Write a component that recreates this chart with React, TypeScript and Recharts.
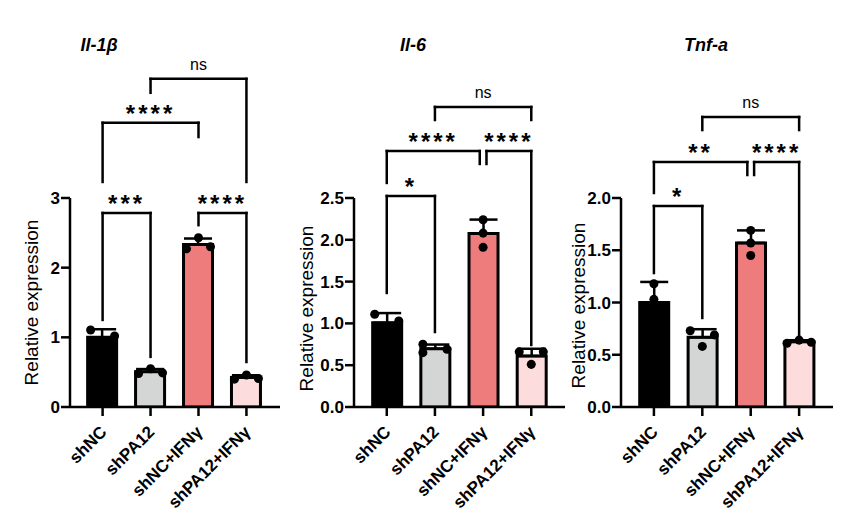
import {
  Bar,
  Cell,
  ComposedChart,
  ErrorBar,
  Label,
  ReferenceDot,
  ReferenceLine,
  Scatter,
  XAxis,
  YAxis,
} from "recharts";

const groups = ["shNC", "shPA12", "shNC+IFNγ", "shPA12+IFNγ"];
const groupColors = ["#000000", "#d4d5d5", "#ef7c7c", "#fcdcdc"];

// three replicates per group
const il1bReplicates = [
  [1.105, 1.02, 0.875],
  [0.55, 0.48, 0.49],
  [2.43, 2.27, 2.3],
  [0.46, 0.4, 0.41],
];
const il6Replicates = [
  [1.11, 1.03, 0.88],
  [0.75, 0.65, 0.69],
  [2.24, 2.08, 1.91],
  [0.66, 0.66, 0.51],
];
const tnfaReplicates = [
  [1.18, 1.03, 0.79],
  [0.73, 0.69, 0.58],
  [1.69, 1.57, 1.45],
  [0.61, 0.64, 0.62],
];

const il1bTicks = [0, 1, 2, 3];
const il6Ticks = [0, 0.5, 1, 1.5, 2, 2.5];
const tnfaTicks = [0, 0.5, 1, 1.5, 2];

type Bracket = {
  from: number;
  to: number;
  y: number;
  yFrom: number;
  yTo: number;
  label: string;
};

// significance brackets: group span, bar height, leg ends (data units)
const il1bBrackets: Bracket[] = [
  { from: 0, to: 1, y: 2.785, yFrom: 1.25, yTo: 0.72, label: "***" },
  { from: 0, to: 2, y: 4.08, yFrom: 3.23, yTo: 3.875, label: "****" },
  { from: 2, to: 3, y: 2.785, yFrom: 2.61, yTo: 0.646, label: "****" },
  { from: 1, to: 3, y: 4.71, yFrom: 4.51, yTo: 3.23, label: "ns" },
];
const il6Brackets: Bracket[] = [
  { from: 0, to: 1, y: 2.524, yFrom: 1.364, yTo: 0.897, label: "*" },
  { from: 0, to: 1.93, y: 3.062, yFrom: 2.68, yTo: 2.907, label: "****" },
  { from: 2.07, to: 3, y: 3.062, yFrom: 2.907, yTo: 0.742, label: "****" },
  { from: 1, to: 3, y: 3.589, yFrom: 3.433, yTo: 3.433, label: "ns" },
];
const tnfaBrackets: Bracket[] = [
  { from: 0, to: 1, y: 1.923, yFrom: 1.282, yTo: 0.852, label: "*" },
  { from: 0, to: 1.93, y: 2.344, yFrom: 2.048, yTo: 2.22, label: "**" },
  { from: 2.07, to: 3, y: 2.344, yFrom: 2.22, yTo: 0.67, label: "****" },
  { from: 1, to: 3, y: 2.775, yFrom: 2.65, yTo: 2.65, label: "ns" },
];

// where each dot sits beside the bar centre (-1 left, 0 middle, 1 right)
const il1bSpread = [[-1, 1, 0], [0, -1, 1], [0, -1, 1], [0, -1, 1]];
const il6Spread = [[-1, 1, 0], [-1, -1, 1], [0, 0, 0], [-1, 1, 0]];
const tnfaSpread = [[0, 0, 0], [-1, 1, 0], [0, 0, 0], [-1, 0, 1]];

const xDomain = [-0.68, 3.7];
const axisStyle = { stroke: "#000", strokeWidth: 2.5 };
const lineProps = {
  xAxisId: "g",
  stroke: "#000",
  strokeWidth: 2.5,
  strokeLinecap: "square" as const,
  ifOverflow: "visible" as const,
};

function GroupTick(props: any) {
  const { x, y, payload } = props;
  return (
    <text
      x={0}
      y={0}
      transform={`translate(${x + 5},${y + 15}) rotate(-45)`}
      textAnchor="end"
      fontSize={17}
      fontWeight={700}
      fill="#000"
    >
      {groups[payload.value]}
    </text>
  );
}

type PanelProps = {
  left: number;
  title: string;
  titleX: number;
  replicates: number[][];
  spread: number[][];
  ticks: number[];
  format: (v: number) => string;
  brackets: Bracket[];
  marginLeft: number;
  marginRight: number;
  labelX: number;
  labelDy: number;
};

function Panel(p: PanelProps) {
  const rows = p.replicates.map((vals, i) => {
    const mean = vals.reduce((a, b) => a + b, 0) / vals.length;
    const sd = Math.sqrt(
      vals.reduce((a, b) => a + (b - mean) ** 2, 0) / (vals.length - 1),
    );
    return { x: i, mean, err: [0, sd] };
  });
  const dots = p.replicates.flatMap((vals, i) =>
    vals.map((v, j) => ({ x: i + p.spread[i][j] * 0.25, v })),
  );

  return (
    <div style={{ position: "absolute", left: p.left, top: 0, width: 290, height: 523 }}>
      <div
        style={{
          position: "absolute",
          left: p.titleX - p.left - 60,
          width: 120,
          top: 36,
          textAlign: "center",
          fontSize: 18,
          lineHeight: "18px",
          fontWeight: 700,
          fontStyle: "italic",
        }}
      >
        {p.title}
      </div>
      <ComposedChart
        width={290}
        height={523}
        data={rows}
        margin={{ top: 198, right: p.marginRight, bottom: 0, left: p.marginLeft }}
      >
        <XAxis
          xAxisId="g"
          type="number"
          dataKey="x"
          domain={xDomain}
          ticks={[0, 1, 2, 3]}
          interval={0}
          height={116}
          tickSize={9}
          axisLine={axisStyle}
          tickLine={axisStyle}
          tick={(t: any) => <GroupTick {...t} />}
          allowDataOverflow
        />
        <XAxis
          xAxisId="dots"
          type="number"
          dataKey="x"
          domain={xDomain}
          orientation="top"
          height={0}
          allowDataOverflow
          hide
        />
        <YAxis
          type="number"
          domain={[0, p.ticks[p.ticks.length - 1]]}
          ticks={p.ticks}
          interval={0}
          width={50}
          tickSize={9}
          tickMargin={1}
          tickFormatter={p.format}
          axisLine={axisStyle}
          tickLine={axisStyle}
          tick={{ fill: "#000", fontSize: 17, fontWeight: 700 }}
          allowDataOverflow
        >
          <Label
            content={({ viewBox }: any) => {
              const cx = viewBox.x + p.labelX;
              const cy = viewBox.y + viewBox.height / 2 + p.labelDy;
              return (
                <text
                  x={cx}
                  y={cy}
                  transform={`rotate(-90, ${cx}, ${cy})`}
                  textAnchor="middle"
                  dominantBaseline="central"
                  fontSize={19}
                  fill="#000"
                >
                  Relative expression
                </text>
              );
            }}
          />
        </YAxis>
        <Bar
          xAxisId="g"
          dataKey="mean"
          barSize={29}
          stroke="#000"
          strokeWidth={3}
          isAnimationActive={false}
        >
          {rows.map((_, i) => (
            <Cell key={i} fill={groupColors[i]} />
          ))}
          <ErrorBar dataKey="err" width={14} stroke="#000" strokeWidth={2.5} />
        </Bar>
        <Scatter
          xAxisId="dots"
          data={dots}
          dataKey="v"
          fill="#000"
          isAnimationActive={false}
        />
        {p.brackets.flatMap((b, i) => [
          <ReferenceLine
            key={`l${i}`}
            segment={[{ x: b.from, y: b.yFrom }, { x: b.from, y: b.y }]}
            {...lineProps}
          />,
          <ReferenceLine
            key={`t${i}`}
            segment={[{ x: b.from, y: b.y }, { x: b.to, y: b.y }]}
            {...lineProps}
          />,
          <ReferenceLine
            key={`r${i}`}
            segment={[{ x: b.to, y: b.y }, { x: b.to, y: b.yTo }]}
            {...lineProps}
          />,
        ])}
        {p.brackets.map((b, i) => (
          <ReferenceDot
            key={`d${i}`}
            xAxisId="g"
            x={(b.from + b.to) / 2}
            y={b.y}
            ifOverflow="visible"
            shape={(s: any) =>
              b.label === "ns" ? (
                <text x={s.cx} y={s.cy - 9} textAnchor="middle" fontSize={16} fill="#000">
                  ns
                </text>
              ) : (
                <text
                  x={s.cx}
                  y={s.cy - 1}
                  textAnchor="middle"
                  fontSize={24}
                  fontWeight={700}
                  letterSpacing={3}
                  fill="#000"
                >
                  {b.label}
                </text>
              )
            }
          />
        ))}
      </ComposedChart>
    </div>
  );
}

export default function App() {
  return (
    <div
      style={{
        position: "absolute",
        left: 0,
        top: 0,
        width: 850,
        height: 523,
        background: "#fff",
        fontFamily: "Arial, 'Liberation Sans', sans-serif",
      }}
    >
      <Panel
        left={0}
        title="Il-1β"
        titleX={99}
        replicates={il1bReplicates}
        spread={il1bSpread}
        ticks={il1bTicks}
        format={(v) => String(v)}
        brackets={il1bBrackets}
        marginLeft={20}
        marginRight={10}
        labelX={11.5}
        labelDy={0}
      />
      <Panel
        left={280}
        title="Il-6"
        titleX={413}
        replicates={il6Replicates}
        spread={il6Spread}
        ticks={il6Ticks}
        format={(v) => v.toFixed(1)}
        brackets={il6Brackets}
        marginLeft={24}
        marginRight={5}
        labelX={2.5}
        labelDy={6}
      />
      <Panel
        left={560}
        title="Tnf-a"
        titleX={706}
        replicates={tnfaReplicates}
        spread={tnfaSpread}
        ticks={tnfaTicks}
        format={(v) => v.toFixed(1)}
        brackets={tnfaBrackets}
        marginLeft={11}
        marginRight={17}
        labelX={7.5}
        labelDy={3}
      />
    </div>
  );
}
